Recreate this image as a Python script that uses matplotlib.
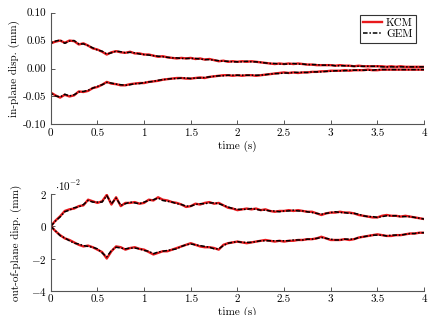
import numpy as np
import matplotlib
matplotlib.use("Agg")
import matplotlib.pyplot as plt

plt.rcParams['font.family'] = 'serif'
plt.rcParams['font.serif'] = ['cmr10', 'DejaVu Serif']
plt.rcParams['mathtext.fontset'] = 'cm'
plt.rcParams['axes.unicode_minus'] = False
plt.rcParams['font.size'] = 8

# time grid (s), 0.05 s step
time = np.arange(0, 81) * 0.05

# in-plane displacement envelopes (mm), first value right after the initial jump
inp_kcm_up = [0.045, 0.048, 0.050, 0.046, 0.050, 0.049, 0.043, 0.045, 0.041, 0.036,
              0.034, 0.030, 0.025, 0.029, 0.031, 0.029, 0.028, 0.030, 0.027, 0.027,
              0.025, 0.025, 0.023, 0.021, 0.022, 0.020, 0.019, 0.018, 0.019, 0.018,
              0.019, 0.017, 0.018, 0.016, 0.017, 0.015, 0.013, 0.014, 0.012, 0.013,
              0.012, 0.013, 0.012, 0.013, 0.012, 0.011, 0.010, 0.009, 0.008, 0.009,
              0.008, 0.009, 0.008, 0.009, 0.008, 0.007, 0.007, 0.006, 0.006, 0.006,
              0.006, 0.005, 0.006, 0.005, 0.005, 0.004, 0.005, 0.004, 0.004, 0.004,
              0.004, 0.004, 0.003, 0.004, 0.003, 0.004, 0.003, 0.003, 0.003, 0.003,
              0.003]
inp_kcm_lo = [-0.043, -0.048, -0.052, -0.047, -0.050, -0.048, -0.041, -0.042, -0.040, -0.035,
              -0.033, -0.029, -0.024, -0.027, -0.028, -0.030, -0.030, -0.028, -0.027, -0.026,
              -0.026, -0.024, -0.023, -0.022, -0.020, -0.019, -0.018, -0.017, -0.017, -0.018,
              -0.018, -0.017, -0.016, -0.017, -0.015, -0.014, -0.013, -0.012, -0.012, -0.013,
              -0.012, -0.013, -0.012, -0.012, -0.013, -0.012, -0.011, -0.010, -0.009, -0.008,
              -0.007, -0.008, -0.007, -0.008, -0.007, -0.007, -0.006, -0.006, -0.005, -0.005,
              -0.004, -0.004, -0.004, -0.003, -0.004, -0.003, -0.003, -0.003, -0.002, -0.003,
              -0.003, -0.002, -0.002, -0.002, -0.002, -0.002, -0.002, -0.002, -0.002, -0.002,
              -0.002]
inp_gem_up = [0.045, 0.049, 0.051, 0.045, 0.049, 0.050, 0.044, 0.044, 0.041, 0.037,
              0.033, 0.031, 0.026, 0.028, 0.031, 0.030, 0.028, 0.029, 0.028, 0.026,
              0.025, 0.024, 0.023, 0.022, 0.021, 0.020, 0.019, 0.019, 0.018, 0.018,
              0.018, 0.018, 0.017, 0.016, 0.016, 0.015, 0.014, 0.013, 0.013, 0.012,
              0.012, 0.012, 0.013, 0.012, 0.012, 0.011, 0.010, 0.009, 0.009, 0.008,
              0.008, 0.008, 0.009, 0.008, 0.008, 0.007, 0.007, 0.007, 0.006, 0.006,
              0.006, 0.005, 0.005, 0.005, 0.005, 0.004, 0.004, 0.004, 0.004, 0.004,
              0.004, 0.003, 0.003, 0.003, 0.003, 0.003, 0.003, 0.003, 0.003, 0.003,
              0.003]
inp_gem_lo = [-0.044, -0.049, -0.051, -0.046, -0.049, -0.047, -0.042, -0.041, -0.039, -0.035,
              -0.032, -0.029, -0.025, -0.026, -0.028, -0.029, -0.030, -0.029, -0.027, -0.027,
              -0.025, -0.024, -0.023, -0.021, -0.020, -0.019, -0.018, -0.018, -0.017, -0.017,
              -0.018, -0.017, -0.017, -0.016, -0.015, -0.014, -0.013, -0.013, -0.012, -0.012,
              -0.012, -0.012, -0.012, -0.012, -0.012, -0.012, -0.011, -0.010, -0.009, -0.009,
              -0.008, -0.008, -0.007, -0.007, -0.007, -0.007, -0.006, -0.006, -0.006, -0.005,
              -0.005, -0.004, -0.004, -0.004, -0.003, -0.003, -0.003, -0.003, -0.003, -0.003,
              -0.002, -0.002, -0.002, -0.002, -0.002, -0.002, -0.002, -0.002, -0.002, -0.002,
              -0.002]

# out-of-plane displacement envelopes (1e-2 mm)
oop_kcm_up = [0.00, 0.35, 0.62, 0.95, 1.05, 1.10, 1.25, 1.30, 1.65, 1.55,
              1.45, 1.55, 1.95, 1.35, 1.80, 1.25, 1.45, 1.45, 1.50, 1.40,
              1.45, 1.65, 1.60, 1.80, 1.65, 1.60, 1.50, 1.45, 1.35, 1.20,
              1.25, 1.40, 1.35, 1.45, 1.50, 1.40, 1.45, 1.30, 1.15, 1.10,
              1.00, 1.05, 1.10, 1.05, 1.10, 1.00, 1.05, 0.95, 0.90, 0.95,
              0.95, 1.00, 0.95, 1.00, 0.95, 0.90, 0.90, 0.80, 0.70, 0.80,
              0.85, 0.85, 0.90, 0.85, 0.85, 0.80, 0.70, 0.65, 0.60, 0.55,
              0.55, 0.65, 0.70, 0.65, 0.65, 0.60, 0.65, 0.60, 0.55, 0.50,
              0.45]
oop_kcm_lo = [0.00, -0.30, -0.55, -0.75, -0.85, -1.00, -1.15, -1.25, -1.20, -1.30,
              -1.45, -1.60, -2.00, -1.55, -1.25, -1.30, -1.45, -1.35, -1.30, -1.40,
              -1.45, -1.60, -1.75, -1.65, -1.55, -1.55, -1.45, -1.35, -1.25, -1.15,
              -1.05, -1.15, -1.25, -1.30, -1.30, -1.35, -1.45, -1.15, -1.05, -1.00,
              -0.95, -1.00, -1.05, -1.00, -0.95, -0.90, -0.85, -0.90, -0.95, -0.90,
              -0.95, -0.90, -0.90, -0.85, -0.85, -0.80, -0.80, -0.75, -0.65, -0.75,
              -0.85, -0.85, -0.85, -0.80, -0.85, -0.80, -0.70, -0.65, -0.60, -0.55,
              -0.50, -0.55, -0.60, -0.60, -0.55, -0.55, -0.50, -0.45, -0.45, -0.40,
              -0.40]
oop_gem_up = [0.00, 0.32, 0.58, 0.90, 1.00, 1.15, 1.20, 1.35, 1.60, 1.50,
              1.50, 1.50, 1.90, 1.40, 1.75, 1.30, 1.40, 1.50, 1.45, 1.40,
              1.50, 1.60, 1.65, 1.75, 1.60, 1.55, 1.50, 1.40, 1.35, 1.25,
              1.25, 1.35, 1.40, 1.40, 1.45, 1.45, 1.40, 1.30, 1.20, 1.10,
              1.05, 1.05, 1.05, 1.10, 1.05, 1.00, 1.00, 0.95, 0.95, 0.90,
              0.95, 0.95, 1.00, 0.95, 0.95, 0.90, 0.85, 0.80, 0.75, 0.80,
              0.85, 0.90, 0.85, 0.85, 0.80, 0.80, 0.75, 0.65, 0.60, 0.60,
              0.55, 0.60, 0.65, 0.65, 0.65, 0.60, 0.60, 0.60, 0.55, 0.50,
              0.45]
oop_gem_lo = [0.00, -0.28, -0.58, -0.72, -0.90, -1.05, -1.10, -1.20, -1.25, -1.30,
              -1.40, -1.65, -1.90, -1.50, -1.30, -1.35, -1.40, -1.35, -1.35, -1.40,
              -1.50, -1.55, -1.70, -1.60, -1.55, -1.50, -1.45, -1.40, -1.25, -1.15,
              -1.10, -1.15, -1.20, -1.25, -1.30, -1.40, -1.40, -1.20, -1.05, -1.00,
              -0.95, -1.00, -1.00, -1.00, -0.95, -0.90, -0.90, -0.90, -0.90, -0.90,
              -0.90, -0.90, -0.85, -0.85, -0.85, -0.80, -0.80, -0.75, -0.70, -0.75,
              -0.80, -0.85, -0.85, -0.80, -0.80, -0.80, -0.70, -0.65, -0.60, -0.55,
              -0.55, -0.55, -0.60, -0.55, -0.55, -0.55, -0.50, -0.45, -0.45, -0.40,
              -0.40]

x_ticks = [0, 0.5, 1, 1.5, 2, 2.5, 3, 3.5, 4]
x_labels = ['0', '0.5', '1', '1.5', '2', '2.5', '3', '3.5', '4']
inp_ticks = [-0.10, -0.05, 0.00, 0.05, 0.10]
inp_labels = ['-0.10', '-0.05', '0.00', '0.05', '0.10']
oop_ticks = [-4, -2, 0, 2]
oop_labels = ['$-4$', '$-2$', '$0$', '$2$']

red = '#e8191c'
spine_col = '#555555'
gem_dash = (0, (3.0, 1.2, 1.0, 1.2))

fig = plt.figure(figsize=(4.34, 3.15), dpi=100)
ax1 = fig.add_axes([0.117, 0.605, 0.860, 0.355])
ax2 = fig.add_axes([0.117, 0.077, 0.860, 0.307])


def style(ax):
    for s in ['top', 'right']:
        ax.spines[s].set_visible(False)
    for s in ['left', 'bottom']:
        ax.spines[s].set_color(spine_col)
        ax.spines[s].set_linewidth(0.8)
    ax.tick_params(direction='in', length=3, width=0.7, color=spine_col, pad=3)
    ax.set_xlim(0, 4)
    ax.set_xticks(x_ticks)
    ax.set_xticklabels(x_labels)
    ax.set_xlabel('time (s)', labelpad=2)


t_jump = np.r_[0.0, time]
ax1.plot(t_jump, np.r_[0.0, inp_kcm_up], color=red, lw=1.7, label='KCM')
ax1.plot(t_jump, np.r_[0.0, inp_kcm_lo], color=red, lw=1.7)
ax1.plot(t_jump, np.r_[0.0, inp_gem_up], color='black', lw=1.1, ls=gem_dash, label='GEM')
ax1.plot(t_jump, np.r_[0.0, inp_gem_lo], color='black', lw=1.1, ls=gem_dash)
style(ax1)
ax1.set_ylim(-0.10, 0.10)
ax1.set_yticks(inp_ticks)
ax1.set_yticklabels(inp_labels)
ax1.set_ylabel('in-plane disp. (mm)', labelpad=2)
leg = ax1.legend(loc='upper right', fancybox=False, framealpha=1,
                 edgecolor='#333333', handlelength=1.7, handletextpad=0.35,
                 borderpad=0.3, labelspacing=0.15, fontsize=8,
                 borderaxespad=0.2, bbox_to_anchor=(0.985, 1.0))
leg.get_frame().set_linewidth(0.8)

ax2.plot(time, oop_kcm_up, color=red, lw=1.7)
ax2.plot(time, oop_kcm_lo, color=red, lw=1.7)
ax2.plot(time, oop_gem_up, color='black', lw=1.1, ls=gem_dash)
ax2.plot(time, oop_gem_lo, color='black', lw=1.1, ls=gem_dash)
style(ax2)
ax2.set_ylim(-4, 2)
ax2.set_yticks(oop_ticks)
ax2.set_yticklabels(oop_labels)
ax2.set_ylabel('out-of-plane disp. (mm)', labelpad=6)
ax2.text(0.012, 1.01, r'$\cdot 10^{-2}$', transform=ax2.transAxes,
         ha='left', va='bottom', fontsize=8)

fig.savefig('out.png', dpi=100)
